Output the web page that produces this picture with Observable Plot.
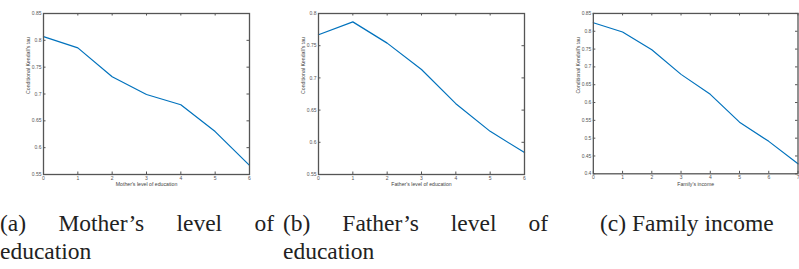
<!DOCTYPE html>
<html>
<head>
<meta charset="utf-8">
<script src="https://cdn.jsdelivr.net/npm/d3@7"></script>
<script src="https://cdn.jsdelivr.net/npm/@observablehq/plot@0.6"></script>
<style>
  html, body { margin: 0; padding: 0; background: #fff; }
  #wrap { position: relative; width: 799px; height: 269px; overflow: hidden; background: #fff; }
  .pan { position: absolute; top: 0; }
  .cap { position: absolute; font-family: "Liberation Serif", serif; font-size: 23.5px; line-height: 28px; color: #222; text-align: justify; }
</style>
</head>
<body>
<div id="wrap">
  <div class="pan" id="pa" style="left:0px"></div>
  <div class="pan" id="pb" style="left:275px"></div>
  <div class="pan" id="pc" style="left:550px"></div>
  <div class="cap" id="ca" style="left:0px; top:209px; width:274px;"></div>
  <div class="cap" id="cb" style="left:283px; top:209px; width:265px;"></div>
  <div class="cap" id="cc" style="left:600px; top:209px; width:199px; text-align:left;"></div>
</div>
<script>
// ---- data ----
const motherLevels = [0, 1, 2, 3, 4, 5, 6];
const motherTau = [0.807, 0.786, 0.732, 0.699, 0.680, 0.630, 0.567];
const fatherLevels = [0, 1, 2, 3, 4, 5, 6];
const fatherTau = [0.767, 0.787, 0.754, 0.713, 0.660, 0.617, 0.584];
const incomeLevels = [0, 1, 2, 3, 4, 5, 6, 7];
const incomeTau = [0.824, 0.798, 0.748, 0.679, 0.623, 0.545, 0.491, 0.428];

const yTicksA = [0.55, 0.6, 0.65, 0.7, 0.75, 0.8, 0.85];
const yTicksB = [0.55, 0.6, 0.65, 0.7, 0.75, 0.8];
const yTicksC = [0.4, 0.45, 0.5, 0.55, 0.6, 0.65, 0.7, 0.75, 0.8, 0.85];

const xLabels = ["Mother's level of education", "Father's level of education", "Family's income"];
const yLabel = "Conditional Kendall's tau";
const captions = [
  "(a) Mother\u2019s level of education",
  "(b) Father\u2019s level of education",
  "(c) Family income"
];

const fmt = d => String(+d.toFixed(2));

function panel(xs, ys, xTicks, yTicks, xDomain, yDomain, xLabel, width, marginRight) {
  const data = xs.map((x, i) => ({x, y: ys[i]}));
  const mT = 13, mB = 16, mL = 43, H = 190;
  const ph = H - mT - mB;
  const pw = width - mL - marginRight;
  const tk = 2.5;
  const col = "#555";
  return Plot.plot({
    width, height: H,
    marginLeft: mL, marginRight, marginTop: mT, marginBottom: mB,
    x: {domain: xDomain},
    y: {domain: yDomain},
    style: {fontFamily: "Liberation Sans, Arial, sans-serif", fontSize: "5px", color: "#444", background: "white", overflow: "visible"},
    marks: [
      Plot.axisX({ticks: xTicks, tickSize: 0, tickPadding: 2, tickFormat: d => String(d), fontSize: 5, fill: "#555", label: null}),
      Plot.axisY({ticks: yTicks, tickSize: 0, tickPadding: 2, tickFormat: fmt, fontSize: 5, fill: "#555", label: null}),
      Plot.tickX(xTicks, {x: d => d, insetTop: ph - tk, stroke: col, strokeWidth: 1}),
      Plot.tickX(xTicks, {x: d => d, insetBottom: ph - tk, stroke: col, strokeWidth: 1}),
      Plot.tickY(yTicks, {y: d => d, insetRight: pw - tk, stroke: col, strokeWidth: 1}),
      Plot.tickY(yTicks, {y: d => d, insetLeft: pw - tk, stroke: col, strokeWidth: 1}),
      Plot.line(data, {x: "x", y: "y", stroke: "#0072BD", strokeWidth: 1.2}),
      Plot.frame({stroke: col, strokeWidth: 1.3}),
      Plot.text([xLabel], {frameAnchor: "bottom", dy: 11.8, text: d => d, fontSize: 5.2, fill: "#444"}),
      Plot.text([yLabel], {frameAnchor: "left", dx: -15.5, rotate: -90, text: d => d, fontSize: 5.2, fill: "#444"})
    ]
  });
}

document.getElementById("pa").appendChild(
  panel(motherLevels, motherTau, motherLevels, yTicksA, [0, 6], [0.55, 0.85], xLabels[0], 275, 26));
document.getElementById("pb").appendChild(
  panel(fatherLevels, fatherTau, fatherLevels, yTicksB, [0, 6], [0.55, 0.8], xLabels[1], 275, 26));
document.getElementById("pc").appendChild(
  panel(incomeLevels, incomeTau, incomeLevels, yTicksC, [0, 7], [0.4, 0.85], xLabels[2], 250, 1.5));

document.getElementById("ca").textContent = captions[0];
document.getElementById("cb").textContent = captions[1];
document.getElementById("cc").textContent = captions[2];
</script>
</body>
</html>
